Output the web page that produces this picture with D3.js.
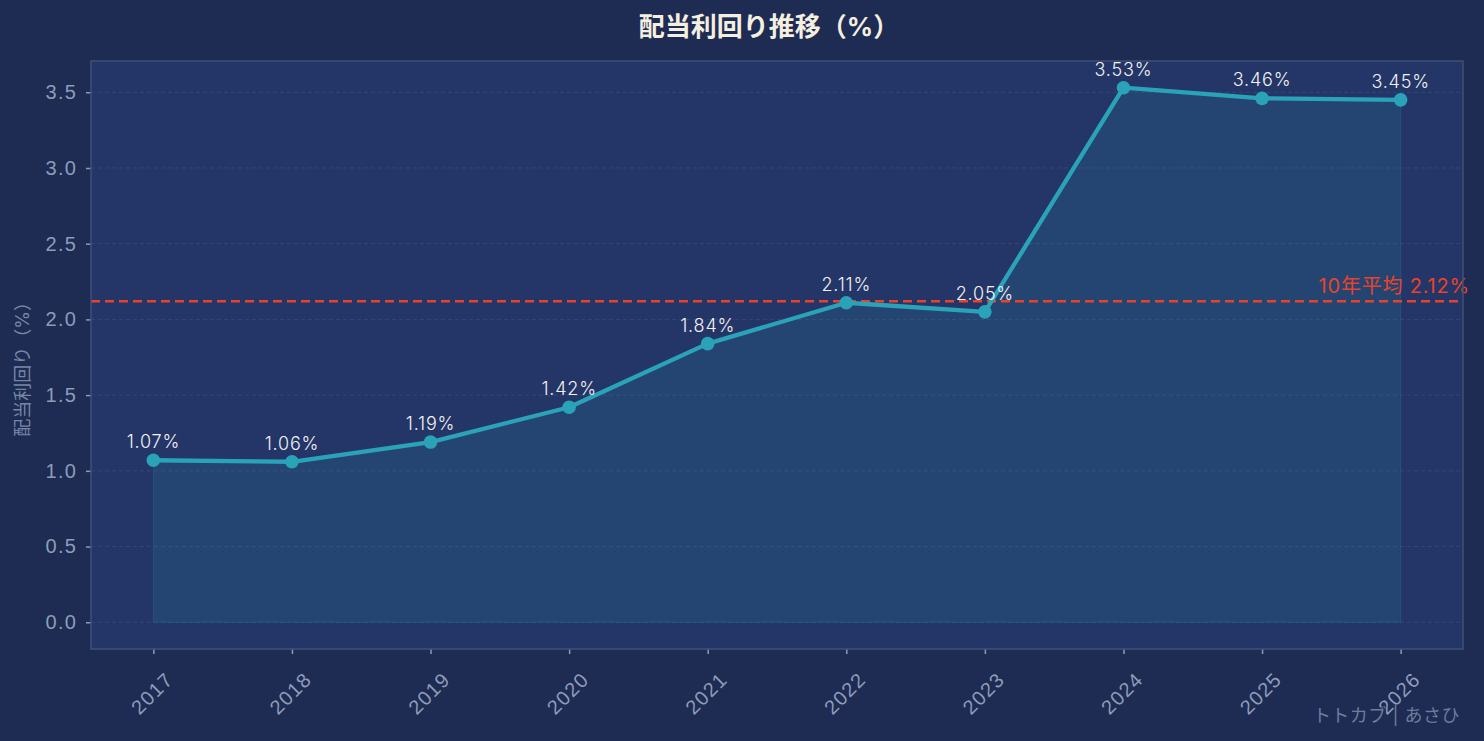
<!DOCTYPE html>
<html>
<head>
<meta charset="utf-8">
<script src="https://cdn.jsdelivr.net/npm/d3@7"></script>
<style>
  html, body { margin: 0; padding: 0; background: #1e2b52; }
  svg { display: block; font-family: "Inter", "Noto Sans CJK JP", "Noto Sans", sans-serif; }
</style>
</head>
<body>
<div id="chart"></div>
<script>
// 配当利回り推移 data
const years = [2017, 2018, 2019, 2020, 2021, 2022, 2023, 2024, 2025, 2026];
const yields = [1.07, 1.06, 1.19, 1.42, 1.84, 2.11, 2.05, 3.53, 3.46, 3.45];
const average = 2.12;
const yTicks = [0.0, 0.5, 1.0, 1.5, 2.0, 2.5, 3.0, 3.5];

const W = 1484, H = 741;
const margin = { left: 91, right: 21, top: 61, bottom: 92 };
const width = W - margin.left - margin.right;
const height = H - margin.top - margin.bottom;

const svg = d3.select("#chart").append("svg")
    .attr("width", W).attr("height", H);

svg.append("rect").attr("width", W).attr("height", H).attr("fill", "#1e2b52");

const g = svg.append("g").attr("transform", `translate(${margin.left},${margin.top})`);

// matplotlib style 5% margins
const xPad = (years[years.length - 1] - years[0]) * 0.05;
const xScale = d3.scaleLinear()
    .domain([years[0] - xPad, years[years.length - 1] + xPad])
    .range([0, width]);
const yMax = d3.max(yields);
const yScale = d3.scaleLinear()
    .domain([-yMax * 0.05, yMax * 1.05])
    .range([height, 0]);

// plot background
g.append("rect").attr("width", width).attr("height", height).attr("fill", "#243567");

// grid
g.selectAll(".grid").data(yTicks).enter().append("line")
    .attr("x1", 0).attr("x2", width)
    .attr("y1", d => yScale(d)).attr("y2", d => yScale(d))
    .attr("stroke", "#3a4a78").attr("stroke-width", 0.8)
    .attr("stroke-dasharray", "4,3");

const pts = years.map((y, i) => ({ year: y, v: yields[i] }));

// area fill
const area = d3.area()
    .x(d => xScale(d.year))
    .y0(yScale(0))
    .y1(d => yScale(d.v));
g.append("path").datum(pts)
    .attr("d", area)
    .attr("fill", "#2aa3b8").attr("fill-opacity", 0.15)
    .attr("stroke", "#2aa3b8").attr("stroke-opacity", 0.2).attr("stroke-width", 1);

// average line
g.append("line")
    .attr("x1", 0).attr("x2", width)
    .attr("y1", yScale(average)).attr("y2", yScale(average))
    .attr("stroke", "#e8432a").attr("stroke-width", 2.4)
    .attr("stroke-dasharray", "9,5");

g.append("text")
    .attr("x", xScale(years[years.length - 1] + 0.5))
    .attr("y", yScale(average) - 8)
    .attr("text-anchor", "end")
    .attr("fill", "#e8432a")
    .style("font-size", "20px").style("letter-spacing", "0.8px")
    .text(`10年平均 ${average.toFixed(2)}%`);

// line
const line = d3.line().x(d => xScale(d.year)).y(d => yScale(d.v));
g.append("path").datum(pts)
    .attr("d", line)
    .attr("fill", "none")
    .attr("stroke", "#2aa3b8").attr("stroke-width", 4.3)
    .attr("stroke-linejoin", "round");

g.selectAll(".pt").data(pts).enter().append("circle")
    .attr("cx", d => xScale(d.year)).attr("cy", d => yScale(d.v))
    .attr("r", 6.8).attr("fill", "#2aa3b8");

g.selectAll(".lbl").data(pts).enter().append("text")
    .attr("x", d => xScale(d.year)).attr("y", d => yScale(d.v) - 12)
    .attr("text-anchor", "middle")
    .attr("fill", "#f2f2f2")
    .style("font-size", "18px").style("font-weight", "300").style("letter-spacing", "0.8px")
    .text(d => d.v.toFixed(2) + "%");

// axes
const yAxis = g.append("g")
    .call(d3.axisLeft(yScale).tickValues(yTicks).tickFormat(d3.format(".1f")).tickSize(5).tickPadding(9));
const xAxis = g.append("g").attr("transform", `translate(0,${height})`)
    .call(d3.axisBottom(xScale).tickValues(years).tickFormat(d3.format("d")).tickSize(5).tickPadding(6));

[yAxis, xAxis].forEach(a => {
    a.select(".domain").remove();
    a.selectAll(".tick line").attr("stroke", "#8a9bb8").attr("stroke-width", 1.5);
    a.selectAll(".tick text").attr("fill", "#8d9cba")
        .style("font-size", "20px").style("font-weight", "300").style("letter-spacing", "1.2px");
});
xAxis.selectAll(".tick text")
    .attr("text-anchor", "end")
    .attr("dx", "-8px").attr("dy", "26px")
    .attr("transform", "rotate(-45)");

// frame
g.append("rect").attr("width", width).attr("height", height)
    .attr("fill", "none").attr("stroke", "#3f5178").attr("stroke-width", 1.5);

// title
svg.append("text")
    .attr("x", 769).attr("y", 36)
    .attr("text-anchor", "middle")
    .attr("fill", "#f5efe0")
    .style("font-size", "26px").style("font-weight", "bold")
    .text("配当利回り推移（%）");

// y label
svg.append("text")
    .attr("transform", `translate(29,${margin.top + yScale(1.7)}) rotate(-90)`)
    .attr("text-anchor", "middle")
    .attr("fill", "#7786a6")
    .style("font-size", "18px")
    .text("配当利回り（%）");

// watermark
svg.append("text")
    .attr("x", W - 24).attr("y", 722)
    .attr("text-anchor", "end")
    .attr("fill", "#6d7c9c")
    .style("font-size", "18px").style("letter-spacing", "0.5px")
    .text("トトカブ | あさひ");
</script>
</body>
</html>
